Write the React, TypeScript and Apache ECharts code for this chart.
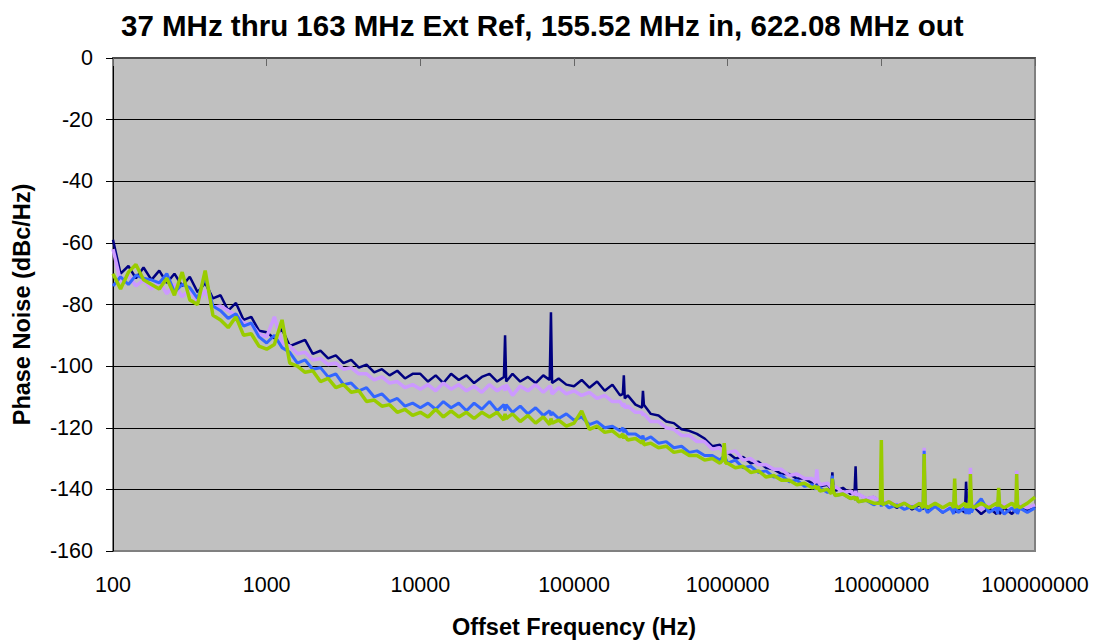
import React, { useEffect, useRef } from "react";
import * as echarts from "echarts";

const titleText = "37 MHz thru 163 MHz Ext Ref, 155.52 MHz in, 622.08 MHz out";
const xAxisName = "Offset Frequency (Hz)";
const yAxisName = "Phase Noise (dBc/Hz)";
const seriesNames = ["Navy", "Lavender", "Blue", "Green"];
const seriesColors = ["#000080", "#CC99FF", "#3366FF", "#99CC00"];

const freqs = [
  100, 112, 126, 141, 158, 178, 200, 224, 251, 282, 316, 355, 398, 447, 501, 562, 631, 708, 794, 891,
  1000, 1122, 1259, 1413, 1585, 1778, 1995, 2239, 2512, 2818, 3162, 3548, 3981, 4467, 5012, 5623, 6310, 7079, 7943, 8913,
  10000, 11220, 12589, 14125, 15849, 17783, 19953, 22387, 25119, 28184, 31623, 35000, 35600, 36200, 39811, 44668, 50119, 56234, 63096, 69500, 70800, 72000, 79433, 89125,
  100000, 112202, 125893, 141254, 158489, 177828, 199526, 208000, 211000, 214000, 223872, 251189, 277000, 281000, 285000, 316228, 354813, 398107, 446684, 501187, 562341, 630957, 707946, 794328, 891251, 930000, 950000, 970000,
  1000000, 1122018, 1258925, 1412538, 1584893, 1778279, 1995262, 2238721, 2511886, 2818383, 3162278, 3548134, 3740000, 3800000, 3860000, 3981072, 4466836, 4730000, 4800000, 4870000, 5011872, 5623413, 6309573, 6700000, 6800000, 6900000, 7079458, 7943282, 8912509, 9850000,
  10000000, 10150000, 11220185, 12589254, 14125375, 15848932, 17782794, 18700000, 19000000, 19300000, 19952623, 22387211, 25118864, 28183829, 29600000, 30000000, 30400000, 31622777, 35000000, 35600000, 36200000, 37400000, 38000000, 38600000, 39810717, 44668359, 50118723, 56234133, 57200000, 58000000, 58800000, 63095734, 70794578, 75000000, 76000000, 77000000, 79432823, 89125094, 100000000,
];

const navy = [
  -59, -70, -67.5, -71.5, -68, -72, -69, -73, -70, -74, -71, -76, -73, -78, -77, -82, -79.5, -85, -84, -88.5,
  -89, -91, -88, -93.5, -92.5, -91.5, -96, -95, -97.5, -96.5, -99, -98, -100.5, -99.5, -102, -101, -103, -101.5, -104, -102.5,
  -102.5, -105, -103, -105.5, -102.5, -104.5, -103, -105.5, -103.5, -102.5, -105, -103.5, -90, -105, -102.5, -105, -103.5, -105.5, -103, -104.5, -82.5, -105.5, -104, -106,
  -106.5, -104.5, -107, -105, -108, -106, -109.5, -109, -103, -110.5, -109.5, -112.5, -113.5, -108, -112.5, -115.5, -116, -118, -118.5, -120.5, -121, -122, -123.5, -126, -125.5, -128, -126.5, -128.5,
  -128, -130, -129.5, -131.5, -131, -133, -133.5, -135, -135, -136.5, -136.5, -138, -137.5, -138.5, -137.5, -139, -138.5, -140, -134.5, -139, -140.5, -139.5, -141.5, -140.5, -132.5, -142, -141.5, -143, -142.5, -144,
  -143, -145, -144, -146, -144.5, -146.5, -145, -146.5, -129, -145, -147, -145.5, -147.5, -145.5, -147, -145.5, -147.5, -146, -147.5, -137.5, -146, -147.5, -145.5, -147, -145.5, -148, -146, -148, -146.5, -145.5, -148, -146, -148, -146.5, -145.5, -147.5, -145.5, -147, -145.5,
];

const lavender = [
  -62, -72.5, -70.5, -74, -72, -75, -72.5, -76.5, -73.5, -77.5, -75, -79, -75.5, -81, -80.5, -82, -83.5, -86, -86.5, -89.5,
  -90.5, -84, -92.5, -93.5, -96, -95.5, -98, -97.5, -99.5, -99, -101, -100.5, -102.5, -102.5, -104.5, -103.5, -105.5, -105, -107, -106,
  -107.5, -106, -108, -105.5, -107.5, -106, -108, -106.5, -108.5, -106, -108, -106.5, -108, -106, -109.5, -106.5, -108, -106, -108.5, -106.5, -107, -109, -107, -109,
  -108, -109.5, -108.5, -110.5, -109.5, -111.5, -111.5, -113, -112, -113.5, -113, -115, -115, -116, -115.5, -118, -118, -120, -120.5, -122.5, -122.5, -124.5, -124.5, -127, -126.5, -128, -126.5, -128.5,
  -128, -127.5, -130.5, -130, -132, -132, -133.5, -133.5, -135.5, -135, -136.5, -136.5, -138, -133.5, -137, -138.5, -138, -139.5, -138.5, -140, -139, -141, -140.5, -142, -140.5, -142, -141.5, -143, -142.5, -144,
  -143, -144.5, -144, -145, -144.5, -145.5, -144.5, -145.5, -126.5, -144.5, -146, -144.5, -146.5, -145, -146.5, -145, -146.5, -145, -146.5, -145, -146.5, -145, -133, -146.5, -145, -146.5, -145, -146.5, -145.5, -145, -146.5, -145, -146.5, -145, -134, -146, -145, -146, -145,
];

const blue = [
  -74, -71, -73.5, -70.5, -71.5, -72, -73, -70, -76, -73.5, -74.5, -78, -71, -80.5, -82, -84.5, -83, -87, -86, -90.5,
  -92.5, -90, -94, -95.5, -99, -98, -101, -100.5, -103.5, -102.5, -106, -105.5, -108, -107, -110, -109, -111.5, -110.5, -113, -112,
  -113.5, -112, -114, -111.5, -113.5, -112, -114.5, -112, -114, -111.5, -114.5, -112.5, -114.5, -112.5, -115, -113, -115.5, -113.5, -116, -114.5, -116, -115, -117, -115.5,
  -117.5, -116.5, -119, -118, -120, -119.5, -121, -120, -121.5, -120.5, -122, -122, -123.5, -122.5, -124, -123, -125, -124.5, -126.5, -126, -128, -127.5, -129, -129, -130.5, -129.5, -130.5, -130,
  -131.5, -130.5, -133, -132.5, -134.5, -134, -136, -135.5, -137.5, -137, -139, -138.5, -140, -138.5, -140, -139.5, -141, -140.5, -135.5, -140.5, -142, -141.5, -143, -142.5, -143.5, -142.5, -144, -143.5, -145, -144,
  -145.5, -144, -146, -145, -146.5, -145.5, -147, -145.5, -127.5, -146, -147.5, -145.5, -147.5, -146, -148, -138, -146, -147.5, -146, -148, -146, -148, -145.5, -147.5, -146, -143, -147.5, -146, -148, -141, -146, -148, -146, -147.5, -146, -148, -146, -147.5, -146,
];

const green = [
  -70, -75, -69.5, -67, -72, -73.5, -75, -71.5, -77, -69.5, -78.5, -80, -69, -83.5, -85, -87.5, -84, -90, -89.5, -93.5,
  -94.5, -93, -85, -99, -100, -102, -101.5, -105, -104, -107, -106, -108.5, -108, -111.5, -111, -113, -112.5, -115, -114, -116,
  -115, -116.5, -114, -116.5, -114.5, -116.5, -115, -117, -115, -116.5, -115, -117.5, -115.5, -117, -115.5, -118, -116, -118.5, -116.5, -119, -117, -118.5, -117.5, -119.5,
  -118.5, -114.5, -120.5, -119.5, -121.5, -121, -123, -122, -123.5, -122.5, -124, -123.5, -125, -124, -125.5, -125, -126.5, -126, -128, -127.5, -129, -129, -130.5, -130, -131.5, -130.5, -125, -131.5,
  -131.5, -133, -132.5, -134.5, -134, -136, -135.5, -137, -137, -138.5, -138, -139.5, -139, -140, -139, -140.5, -140, -141.5, -136.5, -140.5, -142, -141.5, -143, -142.5, -143.5, -142.5, -144, -143.5, -144.5, -144.5,
  -124, -145, -144, -145.5, -144.5, -146, -144.5, -146, -128.5, -145, -146, -144.5, -146, -144.5, -146, -136.5, -145, -146, -144.5, -146, -144.5, -146, -135, -145, -146, -144.5, -146, -144.5, -145.5, -139.5, -145, -146, -144.5, -146, -135, -145, -146, -144.5, -142.5,
];

const seriesValues = [navy, lavender, blue, green];
const lineWidths = [2.5, 3.5, 3, 3.5];

const FONT = "'Liberation Sans', Arial, sans-serif";

export default function App() {
  const ref = useRef<HTMLDivElement>(null);
  useEffect(() => {
    if (!ref.current) return;
    const chart = echarts.init(ref.current, undefined, { renderer: "svg" });
    chart.setOption({
      animation: false,
      backgroundColor: "#ffffff",
      textStyle: { fontFamily: FONT },
      title: {
        text: titleText,
        left: 116,
        top: 5,
        textStyle: { fontFamily: FONT, fontSize: 29.5, fontWeight: "bold", color: "#000" },
      },
      grid: {
        left: 113,
        right: 63,
        top: 58,
        bottom: 91,
        show: true,
        backgroundColor: "#C0C0C0",
        borderColor: "#808080",
        borderWidth: 2,
      },
      xAxis: {
        type: "log",
        logBase: 10,
        min: 100,
        max: 100000000,
        splitNumber: 6,
        name: xAxisName,
        nameLocation: "middle",
        nameGap: 64,
        nameTextStyle: { fontFamily: FONT, fontSize: 23.5, fontWeight: "bold", color: "#000" },
        axisLine: { show: true, lineStyle: { color: "#4d4d4d", width: 2 } },
        axisTick: { show: true, inside: false, length: 8, lineStyle: { color: "#666" } },
        minorTick: { show: false },
        splitLine: { show: false },
        axisLabel: {
          fontFamily: FONT,
          fontSize: 21.5,
          color: "#000",
          margin: 23,
          formatter: (v: number) => String(Math.round(v)),
        },
      },
      yAxis: {
        type: "value",
        min: -160,
        max: 0,
        interval: 20,
        name: yAxisName,
        nameLocation: "middle",
        nameGap: 79,
        nameRotate: 90,
        nameTextStyle: { fontFamily: FONT, fontSize: 23.5, fontWeight: "bold", color: "#000" },
        axisLine: { show: true, onZero: false, lineStyle: { color: "#000", width: 1 } },
        axisTick: { show: true, inside: false, length: 7, lineStyle: { color: "#000" } },
        splitLine: { show: true, showMinLine: false, showMaxLine: false, lineStyle: { color: "#000", width: 1 } },
        axisLabel: { fontFamily: FONT, fontSize: 21.5, color: "#000", margin: 20 },
      },
      series: seriesValues.map((vals, si) => ({
        name: seriesNames[si],
        type: "line",
        showSymbol: false,
        symbol: "none",
        data: freqs.map((f, i) => [f, vals[i]]),
        lineStyle: { color: seriesColors[si], width: lineWidths[si] },
        itemStyle: { color: seriesColors[si] },
        emphasis: { disabled: true },
      })),
    });
    return () => chart.dispose();
  }, []);
  return (
    <div
      ref={ref}
      style={{ position: "absolute", left: 0, top: 0, width: 1098, height: 644 }}
    />
  );
}
